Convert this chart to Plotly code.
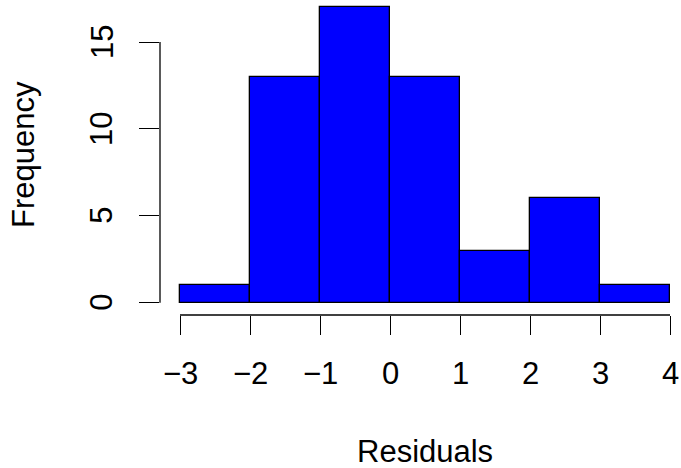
import plotly.graph_objects as go

# Data
bin_left = [-3, -2, -1, 0, 1, 2, 3]
counts = [1, 13, 17, 13, 3, 6, 1]
x_ticks = [-3, -2, -1, 0, 1, 2, 3, 4]
x_tick_labels = ["\u22123", "\u22122", "\u22121", "0", "1", "2", "3", "4"]
y_ticks = [0, 5, 10, 15]
y_tick_labels = ["0", "5", "10", "15"]
x_title = "Residuals"
y_title = "Frequency"

W, H = 681, 468
ML, MB = 160, 153
FONT = "Liberation Sans, Arial, Helvetica, sans-serif"
FS = 31

bin_width = 1
centers = [b + bin_width / 2 for b in bin_left]

fig = go.Figure()
fig.add_trace(go.Bar(
    x=centers, y=counts, width=[bin_width] * len(centers),
    marker=dict(color="#0000FF", line=dict(color="black", width=1.3)),
    hoverinfo="x+y",
))

xr = [-3.2857, 4.157]
yr = [-0.708, 17.417]

shapes = [
    dict(type="line", xref="x", yref="paper", x0=min(x_ticks), x1=max(x_ticks), y0=0, y1=0,
         line=dict(color="black", width=1.3)),
    dict(type="line", xref="paper", yref="y", x0=0, x1=0, y0=min(y_ticks), y1=max(y_ticks),
         line=dict(color="black", width=1.3)),
]

ann = []
plot_h = H - MB
plot_w = W - ML
for v, t in zip(x_ticks, x_tick_labels):
    ann.append(dict(x=v, xref="x", y=-(373 - plot_h) / plot_h, yref="paper", text=t,
                    showarrow=False, xanchor="center", yanchor="middle",
                    font=dict(size=FS, color="black", family=FONT)))
for v, t in zip(y_ticks, y_tick_labels):
    ann.append(dict(x=(102 - ML) / plot_w, xref="paper", y=v, yref="y", text=t,
                    showarrow=False, xanchor="center", yanchor="middle", textangle=-90,
                    font=dict(size=FS, color="black", family=FONT)))
ann.append(dict(x=0.5, xref="x", y=-(451 - plot_h) / plot_h, yref="paper", text=x_title,
                showarrow=False, xanchor="center", yanchor="middle",
                font=dict(size=FS, color="black", family=FONT)))
ann.append(dict(x=(24 - ML) / plot_w, xref="paper", y=8.5, yref="y", text=y_title,
                showarrow=False, xanchor="center", yanchor="middle", textangle=-90,
                font=dict(size=FS, color="black", family=FONT)))

fig.update_layout(
    width=W, height=H,
    margin=dict(l=ML, r=0, t=0, b=MB, pad=0),
    paper_bgcolor="white", plot_bgcolor="white",
    showlegend=False, bargap=0,
    shapes=shapes, annotations=ann,
    xaxis=dict(range=xr, tickvals=x_ticks, showticklabels=False, ticks="outside",
               ticklen=19, tickwidth=1.3, tickcolor="black", showgrid=False,
               zeroline=False, showline=False, fixedrange=True),
    yaxis=dict(range=yr, tickvals=y_ticks, showticklabels=False, ticks="outside",
               ticklen=20, tickwidth=1.3, tickcolor="black", showgrid=False,
               zeroline=False, showline=False, fixedrange=True),
)

fig.write_html("out.html", config={"displayModeBar": False},
               post_script="document.body.style.margin='0';document.body.style.overflow='hidden';")
